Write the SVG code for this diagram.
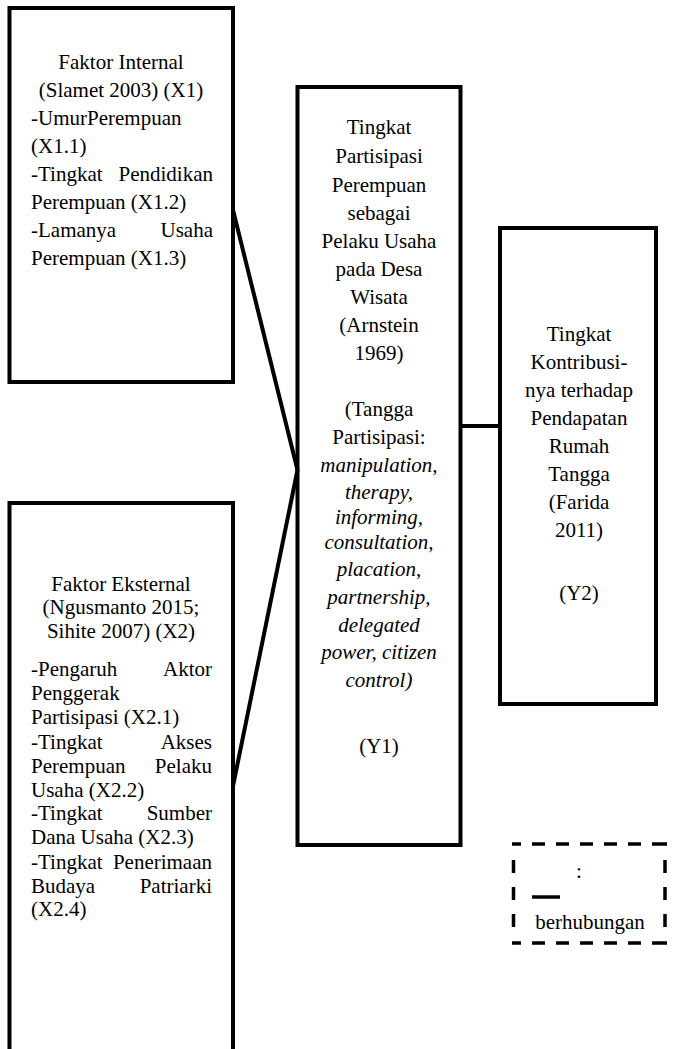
<svg xmlns="http://www.w3.org/2000/svg" width="675" height="1049" viewBox="0 0 675 1049" font-family="'Liberation Serif', 'Times New Roman', Times, serif" font-size="21">
<style>
.box{fill:#fff;stroke:#000;stroke-width:4}
.con{fill:none;stroke:#000;stroke-width:4}
.c{text-anchor:middle}
.r{text-anchor:end}
.i{font-style:italic}
.dash{fill:none;stroke:#000;stroke-width:3.5}
</style>
<rect width="675" height="1049" fill="#fff"/>
<g id="x1">
<rect class="box" x="9.5" y="8" width="223.5" height="374"/>
<text class="c" x="121" y="69">Faktor Internal</text>
<text class="c" x="121" y="97">(Slamet 2003) (X1)</text>
<text x="31" y="125">-UmurPerempuan</text>
<text x="31" y="153">(X1.1)</text>
<text x="31" y="181">-Tingkat</text><text class="r" x="213" y="181">Pendidikan</text>
<text x="31" y="209">Perempuan (X1.2)</text>
<text x="31" y="237">-Lamanya</text><text class="r" x="213" y="237">Usaha</text>
<text x="31" y="265">Perempuan (X1.3)</text>
</g>
<g id="x2">
<path class="box" d="M9.5,1052 V503 H233 V1052"/>
<text class="c" x="121" y="591">Faktor Eksternal</text>
<text class="c" x="121" y="614">(Ngusmanto 2015;</text>
<text class="c" x="121" y="638">Sihite 2007) (X2)</text>
<text x="31" y="676">-Pengaruh</text><text class="r" x="212" y="676">Aktor</text>
<text x="31" y="700">Penggerak</text>
<text x="31" y="724">Partisipasi (X2.1)</text>
<text x="31" y="749">-Tingkat</text><text class="r" x="212" y="749">Akses</text>
<text x="31" y="773">Perempuan</text><text class="r" x="212" y="773">Pelaku</text>
<text x="31" y="797">Usaha (X2.2)</text>
<text x="31" y="820">-Tingkat</text><text class="r" x="212" y="820">Sumber</text>
<text x="31" y="844">Dana Usaha (X2.3)</text>
<text x="31" y="869">-Tingkat</text><text class="r" x="212" y="869">Penerimaan</text>
<text x="31" y="893">Budaya</text><text class="r" x="212" y="893">Patriarki</text>
<text x="31" y="916">(X2.4)</text>
</g>
<g id="y1">
<rect class="box" x="297.5" y="87" width="163" height="758"/>
<text class="c" x="379" y="134">Tingkat</text>
<text class="c" x="379" y="163">Partisipasi</text>
<text class="c" x="379" y="192">Perempuan</text>
<text class="c" x="379" y="220">sebagai</text>
<text class="c" x="379" y="248">Pelaku Usaha</text>
<text class="c" x="379" y="276">pada Desa</text>
<text class="c" x="379" y="304">Wisata</text>
<text class="c" x="379" y="332">(Arnstein</text>
<text class="c" x="379" y="360">1969)</text>
<text class="c" x="379" y="416">(Tangga</text>
<text class="c" x="379" y="444">Partisipasi:</text>
<text class="c i" x="379" y="472">manipulation,</text>
<text class="c i" x="379" y="499">therapy,</text>
<text class="c i" x="379" y="524">informing,</text>
<text class="c i" x="379" y="549">consultation,</text>
<text class="c i" x="379" y="576">placation,</text>
<text class="c i" x="379" y="604">partnership,</text>
<text class="c i" x="379" y="632">delegated</text>
<text class="c i" x="379" y="659">power, citizen</text>
<text class="c i" x="379" y="687">control)</text>
<text class="c" x="379" y="753">(Y1)</text>
</g>
<g id="y2">
<rect class="box" x="500" y="228" width="156" height="476"/>
<text class="c" x="579" y="341">Tingkat</text>
<text class="c" x="579" y="369">Kontribusi-</text>
<text class="c" x="579" y="397">nya terhadap</text>
<text class="c" x="579" y="425">Pendapatan</text>
<text class="c" x="579" y="453">Rumah</text>
<text class="c" x="579" y="481">Tangga</text>
<text class="c" x="579" y="509">(Farida</text>
<text class="c" x="579" y="537">2011)</text>
<text class="c" x="579" y="600">(Y2)</text>
</g>
<g id="connectors">
<path class="con" d="M233,210 L297.5,470 L233,786"/>
<path class="con" d="M460.5,426 H500"/>
</g>
<g id="legend">
<path class="dash" d="M512,844 H667" stroke-dasharray="9 11 13 11 13 11 13 11 13 11 13 11 17"/>
<path class="dash" d="M512,943 H667" stroke-dasharray="9 11 13 11 13 11 13 11 13 11 13 11 17"/>
<path class="dash" d="M513.5,860 V930" stroke-dasharray="13 14"/>
<path class="dash" d="M665,860 V930" stroke-dasharray="13 14"/>
<text class="c" x="579" y="878">:</text>
<path d="M532,897 H560" stroke="#000" stroke-width="3.5"/>
<text class="c" x="590" y="929">berhubungan</text>
</g>
</svg>
